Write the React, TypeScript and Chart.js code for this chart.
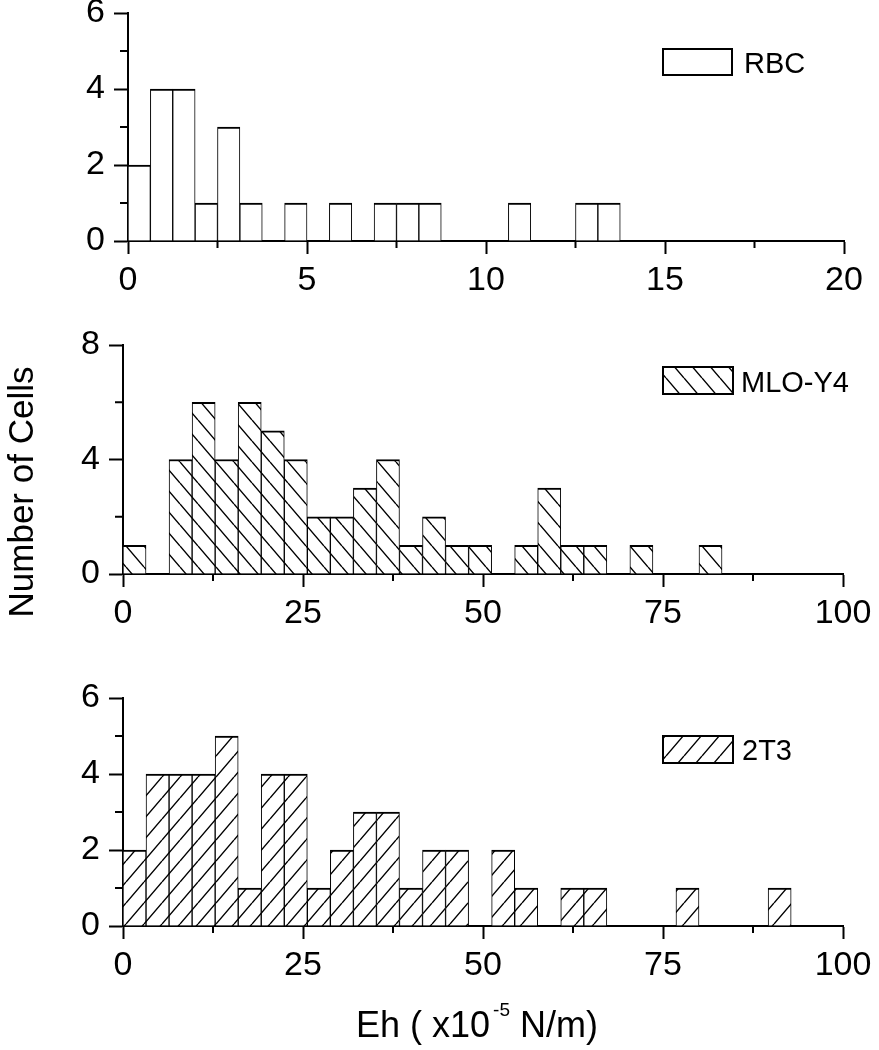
import React, { useEffect, useRef } from 'react';
import { Chart, registerables } from 'chart.js';

Chart.register(...registerables);

// ---- data ----
const seriesLabels = ['RBC', 'MLO-Y4', '2T3'];
const rbcCounts = [2, 4, 4, 1, 3, 1, 0, 1, 0, 1, 0, 1, 1, 1, 0, 0, 0, 1, 0, 0, 1, 1];
const mloCounts = [1, 0, 4, 6, 4, 6, 5, 4, 2, 2, 3, 4, 1, 2, 1, 1, 0, 1, 3, 1, 1, 0, 1, 0, 0, 1];
const t23Counts = [2, 4, 4, 4, 5, 1, 4, 4, 1, 2, 3, 3, 1, 2, 2, 0, 2, 1, 0, 1, 1, 0, 0, 0, 1, 0, 0, 0, 1];
const rbcBinWidth = 0.625;
const cellBinWidth = 3.2;

const rbcXTicks = [0, 5, 10, 15, 20];
const rbcXMinor = [2.5, 7.5, 12.5, 17.5];
const cellXTicks = [0, 25, 50, 75, 100];
const cellXMinor = [12.5, 37.5, 62.5, 87.5];
const rbcYTicks = [0, 2, 4, 6];
const rbcYMinor = [1, 3, 5];
const mloYTicks = [0, 4, 8];
const mloYMinor = [2, 6];
const t23YTicks = [0, 2, 4, 6];
const t23YMinor = [1, 3, 5];

const yTitle = 'Number of Cells';
const xTitleMain = 'Eh ( x10';
const xTitleSup = '-5';
const xTitleEnd = ' N/m)';

const W = 879;
const H = 1050;
const FONT = '"Liberation Sans", Arial, Helvetica, sans-serif';
const X_AXIS_H = 60;

function makeHatch(dir: 'back' | 'fwd') {
  const w = 18, h = 21;
  const c = document.createElement('canvas');
  c.width = w; c.height = h;
  const g = c.getContext('2d')!;
  g.fillStyle = '#fff';
  g.fillRect(0, 0, w, h);
  g.strokeStyle = '#000';
  g.lineWidth = 1.4;
  g.beginPath();
  for (const k of [-1, 0, 1]) {
    if (dir === 'back') { g.moveTo(k * w, 0); g.lineTo(k * w + w, h); }
    else { g.moveTo(k * w, h); g.lineTo(k * w + w, 0); }
  }
  g.stroke();
  return g.createPattern(c, 'repeat');
}

const minorTicksPlugin = {
  id: 'minorTicks',
  afterDraw(chart: any, _a: any, opts: any) {
    const { ctx } = chart;
    const xs = chart.scales.x, ys = chart.scales.y;
    ctx.save();
    ctx.strokeStyle = '#000';
    ctx.lineWidth = 2;
    ctx.beginPath();
    for (const v of opts.x || []) {
      const p = xs.getPixelForValue(v);
      ctx.moveTo(p, xs.top); ctx.lineTo(p, xs.top + opts.xLen);
    }
    for (const v of opts.y || []) {
      const p = ys.getPixelForValue(v);
      ctx.moveTo(ys.right - opts.yLen, p); ctx.lineTo(ys.right, p);
    }
    ctx.stroke();
    ctx.restore();
  },
};

const boxLegendPlugin = {
  id: 'boxLegend',
  afterDraw(chart: any, _a: any, opts: any) {
    const { ctx } = chart;
    const ds = chart.data.datasets[0];
    ctx.save();
    ctx.fillStyle = ds.backgroundColor;
    ctx.fillRect(opts.x, opts.y, opts.w, opts.h);
    ctx.strokeStyle = '#000';
    ctx.lineWidth = 2;
    ctx.strokeRect(opts.x, opts.y, opts.w, opts.h);
    ctx.fillStyle = '#000';
    ctx.font = `${opts.size}px ${FONT}`;
    ctx.textBaseline = 'alphabetic';
    ctx.textAlign = 'left';
    ctx.fillText(ds.label, opts.tx, opts.ty);
    ctx.restore();
  },
};

const titlesPlugin = {
  id: 'figTitles',
  afterDraw(chart: any, _a: any, opts: any) {
    const { ctx } = chart;
    ctx.save();
    ctx.fillStyle = '#000';
    if (opts.yTitle) {
      ctx.save();
      ctx.translate(opts.yTitle.x, opts.yTitle.y);
      ctx.rotate(-Math.PI / 2);
      ctx.font = `${opts.yTitle.size}px ${FONT}`;
      ctx.textAlign = 'center';
      ctx.textBaseline = 'alphabetic';
      ctx.fillText(yTitle, 0, 0);
      ctx.restore();
    }
    if (opts.xTitle) {
      const t = opts.xTitle;
      ctx.textAlign = 'left';
      ctx.textBaseline = 'alphabetic';
      let x = t.x;
      ctx.font = `${t.size}px ${FONT}`;
      ctx.fillText(xTitleMain, x, t.y);
      x += ctx.measureText(xTitleMain).width + t.supGap;
      ctx.font = `${t.supSize}px ${FONT}`;
      ctx.fillText(xTitleSup, x, t.supY);
      x += ctx.measureText(xTitleSup).width;
      ctx.font = `${t.size}px ${FONT}`;
      ctx.fillText(xTitleEnd, x, t.y);
    }
    ctx.restore();
  },
};

type Panel = {
  label: string;
  counts: number[];
  binWidth: number;
  fill: any;
  xMax: number;
  xTicks: number[];
  xMinor: number[];
  yMax: number;
  yTicks: number[];
  yMinor: number[];
  area: { left: number; right: number; top: number; bottom: number };
  legend: any;
  titles?: any;
};

function buildChart(canvas: HTMLCanvasElement, p: Panel) {
  const data = p.counts.map((c, i) => ({ x: (i + 0.5) * p.binWidth, y: c }));
  const tickFont = { family: FONT, size: 34 };
  return new Chart(canvas, {
    type: 'bar',
    data: {
      datasets: [
        {
          label: p.label,
          data,
          backgroundColor: p.fill,
          borderColor: '#000',
          borderWidth: { top: 2, left: 1, right: 1, bottom: 0 },
          borderSkipped: 'start',
          barPercentage: 1,
          categoryPercentage: 1,
          grouped: false,
        } as any,
      ],
    },
    options: {
      responsive: false,
      maintainAspectRatio: false,
      animation: false,
      devicePixelRatio: 1,
      events: [],
      layout: {
        padding: {
          left: 0,
          top: p.area.top,
          right: W - p.area.right,
          bottom: H - p.area.bottom - X_AXIS_H,
        },
      },
      plugins: {
        legend: { display: false },
        tooltip: { enabled: false },
        minorTicks: { x: p.xMinor, y: p.yMinor, xLen: 7, yLen: 8 },
        boxLegend: p.legend,
        figTitles: p.titles || {},
      } as any,
      scales: {
        x: {
          type: 'linear',
          min: 0,
          max: p.xMax,
          offset: false,
          grid: {
            offset: false,
            display: true,
            drawOnChartArea: false,
            drawTicks: true,
            tickLength: 13,
            tickWidth: 2,
            tickColor: '#000',
            color: '#000',
          },
          border: { display: true, color: '#000', width: 2 },
          ticks: {
            color: '#000',
            font: tickFont,
            padding: 6,
            maxRotation: 0,
            autoSkip: false,
          },
          afterBuildTicks: (s: any) => { s.ticks = p.xTicks.map((v) => ({ value: v })); },
          afterFit: (s: any) => { s.height = X_AXIS_H; s.paddingLeft = 0; s.paddingRight = 0; },
        },
        y: {
          type: 'linear',
          min: 0,
          max: p.yMax,
          grid: {
            display: true,
            drawOnChartArea: false,
            drawTicks: true,
            tickLength: 14,
            tickWidth: 2,
            tickColor: '#000',
            color: '#000',
          },
          border: { display: true, color: '#000', width: 2 },
          ticks: { color: '#000', font: tickFont, padding: 9, autoSkip: false },
          afterBuildTicks: (s: any) => { s.ticks = p.yTicks.map((v) => ({ value: v })); },
          afterFit: (s: any) => { s.width = p.area.left; s.paddingTop = 0; s.paddingBottom = 0; },
        },
      } as any,
    },
    plugins: [minorTicksPlugin, boxLegendPlugin, titlesPlugin],
  });
}

export default function App() {
  const c1 = useRef<HTMLCanvasElement>(null);
  const c2 = useRef<HTMLCanvasElement>(null);
  const c3 = useRef<HTMLCanvasElement>(null);

  useEffect(() => {
    const back = makeHatch('back');
    const fwd = makeHatch('fwd');
    const charts = [
      buildChart(c1.current!, {
        label: seriesLabels[0], counts: rbcCounts, binWidth: rbcBinWidth, fill: '#fff',
        xMax: 20, xTicks: rbcXTicks, xMinor: rbcXMinor,
        yMax: 6, yTicks: rbcYTicks, yMinor: rbcYMinor,
        area: { left: 128, right: 844, top: 13, bottom: 241 },
        legend: { x: 663, y: 49, w: 69, h: 26, tx: 744, ty: 72.5, size: 29 },
      }),
      buildChart(c2.current!, {
        label: seriesLabels[1], counts: mloCounts, binWidth: cellBinWidth, fill: back,
        xMax: 100, xTicks: cellXTicks, xMinor: cellXMinor,
        yMax: 8, yTicks: mloYTicks, yMinor: mloYMinor,
        area: { left: 123, right: 843, top: 345, bottom: 574 },
        legend: { x: 663, y: 367, w: 70, h: 27, tx: 741, ty: 392, size: 29 },
        titles: { yTitle: { x: 33, y: 492, size: 35 } },
      }),
      buildChart(c3.current!, {
        label: seriesLabels[2], counts: t23Counts, binWidth: cellBinWidth, fill: fwd,
        xMax: 100, xTicks: cellXTicks, xMinor: cellXMinor,
        yMax: 6, yTicks: t23YTicks, yMinor: t23YMinor,
        area: { left: 123, right: 843, top: 698, bottom: 926 },
        legend: { x: 663, y: 736, w: 70, h: 27, tx: 742, ty: 760, size: 29 },
        titles: { xTitle: { x: 356, y: 1037, size: 36, supSize: 19, supY: 1016, supGap: 3 } },
      }),
    ];
    return () => charts.forEach((c) => c.destroy());
  }, []);

  const cs: React.CSSProperties = { position: 'absolute', left: 0, top: 0, width: W, height: H };
  return (
    <div style={{ position: 'absolute', left: 0, top: 0, width: W, height: H, background: '#fff' }}>
      <canvas ref={c1} width={W} height={H} style={cs} />
      <canvas ref={c2} width={W} height={H} style={cs} />
      <canvas ref={c3} width={W} height={H} style={cs} />
    </div>
  );
}
